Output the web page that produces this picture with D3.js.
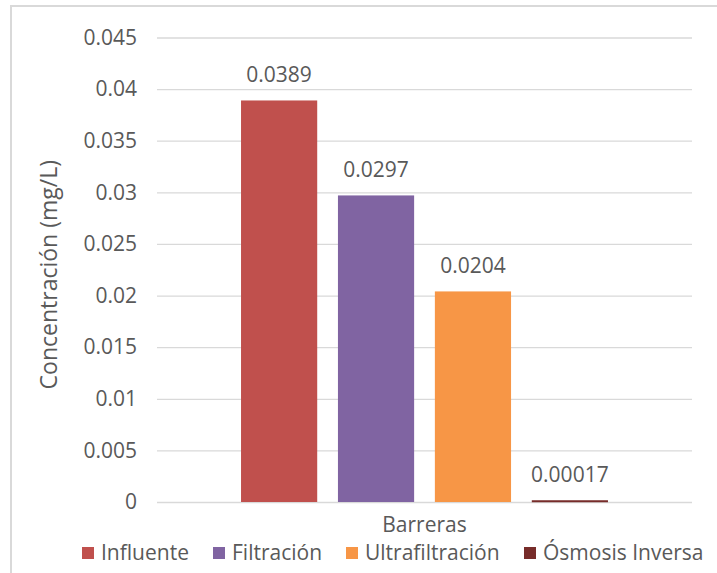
<!DOCTYPE html>
<html>
<head>
<meta charset="utf-8">
<script src="https://cdn.jsdelivr.net/npm/d3@7/dist/d3.min.js"></script>
<style>
  html, body { margin: 0; padding: 0; background: #fff; }
  svg { display: block; }
  text { font-family: "Open Sans", sans-serif; fill: #595959; }
</style>
</head>
<body>
<svg id="chart" width="717" height="573"></svg>
<script>
const categories = ["Barreras"];
const seriesNames = ["Influente", "Filtración", "Ultrafiltración", "Ósmosis Inversa"];
const seriesValues = [0.0389, 0.0297, 0.0204, 0.00017];
const valueLabels = ["0.0389", "0.0297", "0.0204", "0.00017"];
const seriesColors = ["#C0504D", "#8064A2", "#F79646", "#772C2A"];
const yTicks = [0, 0.005, 0.01, 0.015, 0.02, 0.025, 0.03, 0.035, 0.04, 0.045];
const yTickLabels = ["0", "0.005", "0.01", "0.015", "0.02", "0.025", "0.03", "0.035", "0.04", "0.045"];

const svg = d3.select("#chart");
const W = 717, H = 573;
const plot = { left: 157, right: 692, top: 37.5, bottom: 502 };

// chart border (cropped at right and bottom)
svg.append("rect")
  .attr("x", 11).attr("y", 6)
  .attr("width", W + 20).attr("height", H + 20)
  .attr("fill", "none").attr("stroke", "#d9d9d9").attr("stroke-width", 2);

const y = d3.scaleLinear().domain([0, 0.045]).range([plot.bottom, plot.top]);
const x0 = d3.scaleBand().domain(categories).range([plot.left, plot.right]).paddingOuter(0.229);
const x1 = d3.scaleBand().domain(seriesNames).range([0, x0.bandwidth()]).paddingInner(0.214).paddingOuter(0);

// gridlines
const yAxis = d3.axisLeft(y).tickValues(yTicks)
  .tickFormat((d, i) => yTickLabels[i])
  .tickSize(-(plot.right - plot.left)).tickPadding(20);
const gy = svg.append("g").attr("transform", `translate(${plot.left},0)`).call(yAxis);
gy.select(".domain").remove();
gy.selectAll(".tick line").attr("stroke", "#d9d9d9").attr("stroke-width", 1.3);
gy.selectAll(".tick text").attr("font-size", 21).attr("fill", "#595959")
  .attr("font-family", "'Open Sans', sans-serif");

// bars
const g = svg.append("g").selectAll("g").data(categories).join("g")
  .attr("transform", d => `translate(${x0(d)},0)`);
const data = seriesNames.map((s, i) => ({ s, v: seriesValues[i], label: valueLabels[i], c: seriesColors[i] }));
g.selectAll("rect").data(data).join("rect")
  .attr("x", d => x1(d.s))
  .attr("y", d => y(d.v))
  .attr("width", x1.bandwidth())
  .attr("height", d => Math.max(2, y(0) - y(d.v)))
  .attr("fill", d => d.c);
g.selectAll("text.lbl").data(data).join("text").attr("class", "lbl")
  .attr("x", d => x1(d.s) + x1.bandwidth() / 2)
  .attr("y", d => y(d.v) - 18.5)
  .attr("text-anchor", "middle")
  .attr("font-size", 21)
  .text(d => d.label);

// x axis title
svg.append("text").attr("x", x0("Barreras") + x0.bandwidth() / 2).attr("y", 532)
  .attr("text-anchor", "middle").attr("font-size", 21).text(categories[0]);

// y axis title
svg.append("text")
  .attr("transform", `translate(57,${(plot.top + plot.bottom) / 2 + 5}) rotate(-90)`)
  .attr("text-anchor", "middle").attr("font-size", 23).text("Concentración (mg/L)");

// legend
const legX = [82, 213, 346, 524];
const leg = svg.append("g").selectAll("g").data(data).join("g")
  .attr("transform", (d, i) => `translate(${legX[i]},0)`);
leg.append("rect").attr("x", 0).attr("y", 547).attr("width", 12).attr("height", 12)
  .attr("fill", d => d.c);
leg.append("text").attr("x", 19).attr("y", 560).attr("font-size", 21).text(d => d.s);
</script>
</body>
</html>
